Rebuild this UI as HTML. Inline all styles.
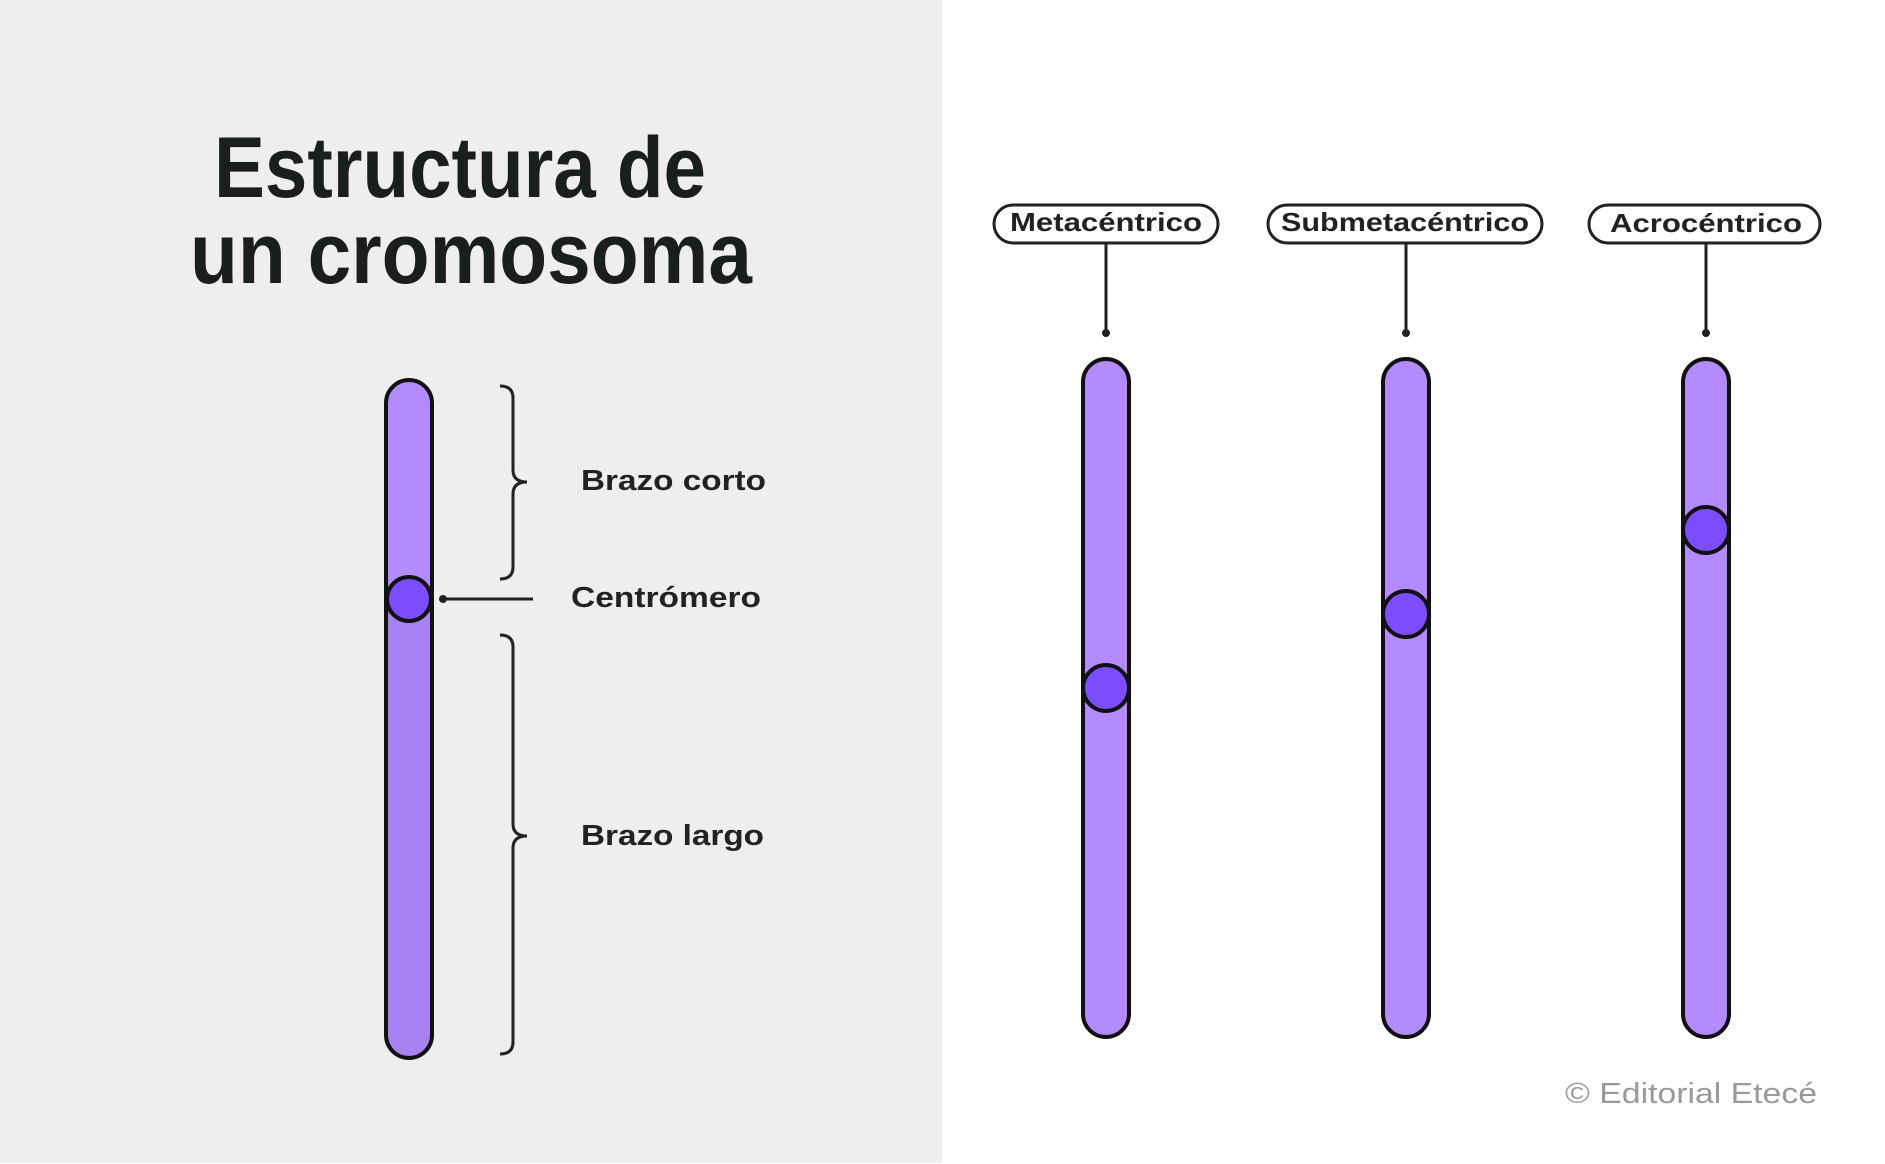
<!DOCTYPE html>
<html><head><meta charset="utf-8"><style>
html,body{margin:0;padding:0;background:#fff}
svg{display:block}
</style></head><body>
<svg width="1885" height="1164" viewBox="0 0 1885 1164" xmlns="http://www.w3.org/2000/svg" font-family="Liberation Sans, sans-serif">
<rect x="0" y="0" width="942" height="1163" fill="#eeeeee"/>
<g fill="#1b1e1f" font-weight="bold">
<text x="214" y="197" font-size="86" textLength="492" lengthAdjust="spacingAndGlyphs">Estructura de</text>
<text x="190" y="283" font-size="86" textLength="562" lengthAdjust="spacingAndGlyphs">un cromosoma</text>
</g>
<defs><clipPath id="lc"><rect x="386" y="380" width="46" height="678" rx="23"/></clipPath></defs>
<g clip-path="url(#lc)">
<rect x="380" y="370" width="60" height="230" fill="#b48aff"/>
<rect x="380" y="599" width="60" height="470" fill="#a781f1"/>
</g>
<rect x="386" y="380" width="46" height="678" rx="23" fill="none" stroke="#111" stroke-width="4"/>
<circle cx="409" cy="599" r="22" fill="#7c4dff" stroke="#111" stroke-width="4"/>
<circle cx="443" cy="599" r="4" fill="#222"/>
<line x1="443" y1="599" x2="533" y2="599" stroke="#222" stroke-width="3"/>
<g fill="none" stroke="#222" stroke-width="3">
<path d="M500 386 Q513 386 513 398 L513 470 Q513 482 527 482 Q513 482 513 494 L513 567 Q513 579 500 579"/>
<path d="M500 635 Q513 635 513 647 L513 824 Q513 836 527 836 Q513 836 513 848 L513 1042 Q513 1054 500 1054"/>
</g>
<g fill="#222" font-weight="bold" font-size="29">
<text x="581" y="490" textLength="185" lengthAdjust="spacingAndGlyphs">Brazo corto</text>
<text x="571" y="607" textLength="190" lengthAdjust="spacingAndGlyphs">Centrómero</text>
<text x="581" y="845" textLength="183" lengthAdjust="spacingAndGlyphs">Brazo largo</text>
</g>
<g stroke="#111" stroke-width="4" fill="#b38aff">
<rect x="1083" y="359" width="46" height="678" rx="23"/>
<rect x="1383" y="359" width="46" height="678" rx="23"/>
<rect x="1683" y="359" width="46" height="678" rx="23"/>
</g>
<g stroke="#111" stroke-width="4" fill="#7c4dff">
<circle cx="1106" cy="688" r="23"/>
<circle cx="1406" cy="614" r="23"/>
<circle cx="1706" cy="530" r="23"/>
</g>
<g stroke="#222" stroke-width="3" fill="#fff">
<rect x="994" y="205" width="224" height="38" rx="19"/>
<rect x="1268" y="205" width="274" height="38" rx="19"/>
<rect x="1589" y="205" width="231" height="38" rx="19"/>
<line x1="1106" y1="243" x2="1106" y2="333"/>
<line x1="1406" y1="243" x2="1406" y2="333"/>
<line x1="1706" y1="243" x2="1706" y2="333"/>
</g>
<g fill="#222"><circle cx="1106" cy="333" r="4"/><circle cx="1406" cy="333" r="4"/><circle cx="1706" cy="333" r="4"/></g>
<g fill="#222" font-weight="bold" font-size="26">
<text x="1010" y="231" textLength="192" lengthAdjust="spacingAndGlyphs">Metacéntrico</text>
<text x="1281" y="231" textLength="248" lengthAdjust="spacingAndGlyphs">Submetacéntrico</text>
<text x="1610" y="232" textLength="192" lengthAdjust="spacingAndGlyphs">Acrocéntrico</text>
</g>
<text x="1565" y="1103" font-size="29" fill="#999" textLength="252" lengthAdjust="spacingAndGlyphs">© Editorial Etecé</text>
</svg>
</body></html>
